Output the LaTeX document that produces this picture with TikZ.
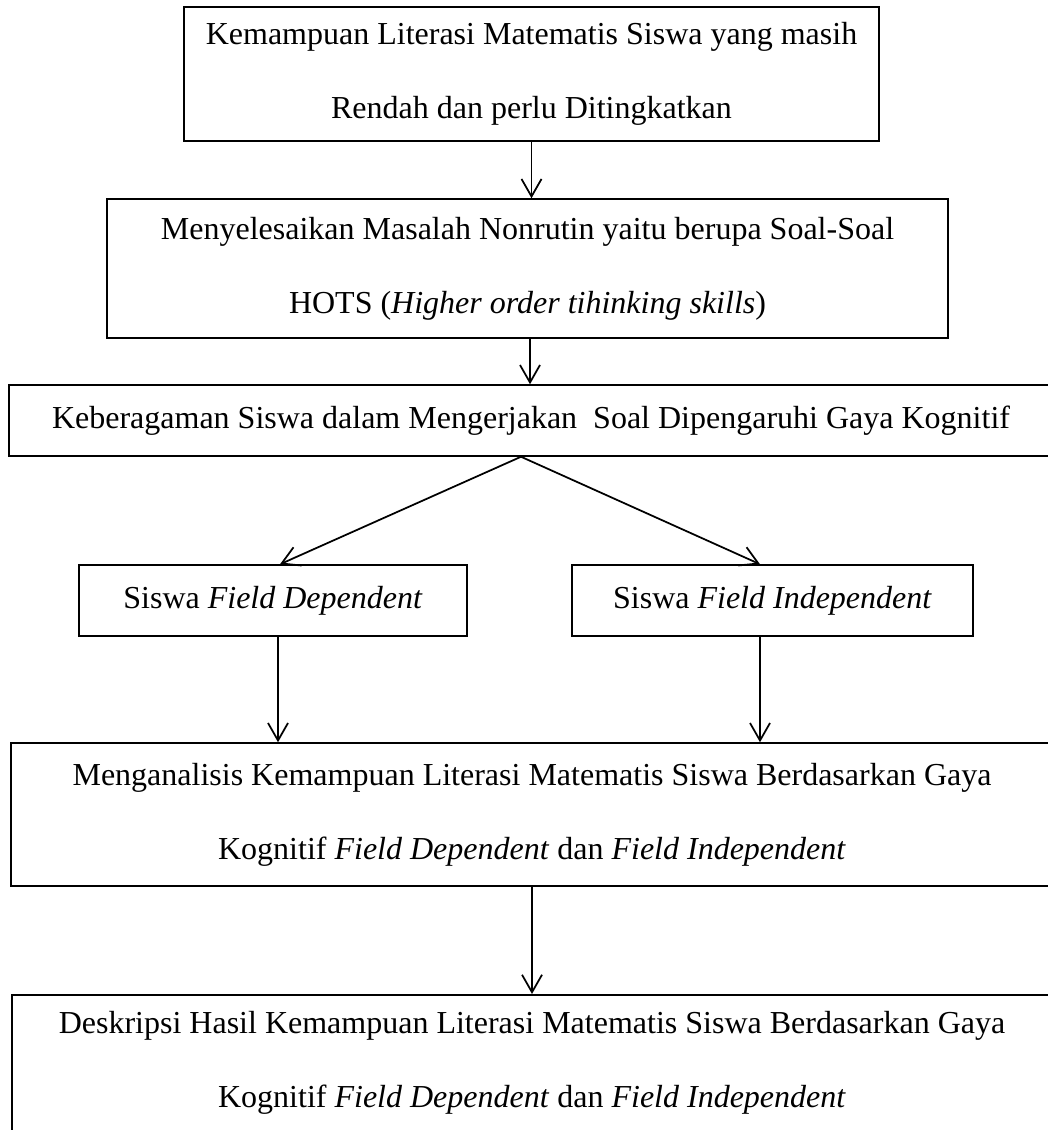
\documentclass[tikz,border=0pt]{standalone}
\usepackage{fontspec}
\setmainfont{Liberation Serif}
\usetikzlibrary{arrows.meta}
\begin{document}
\begin{tikzpicture}[x=0.4pt,y=-0.4pt,
    box/.style={draw,line width=0.6pt,inner sep=0pt,align=center,
      font=\fontsize{12.8}{29.6}\selectfont},
    flow/.style={line width=0.7pt,-{Straight Barb[length=7pt,width=8pt]}}]
  \useasboundingbox (0,0) rectangle (1047,1130);
  \node[box,minimum width=278pt,minimum height=53.6pt] (masalah) at (531.5,74)
    {Kemampuan Literasi Matematis Siswa yang masih\\Rendah dan perlu Ditingkatkan};
  \node[box,minimum width=336.4pt,minimum height=55.6pt] (hots) at (527.5,268.5)
    {Menyelesaikan Masalah Nonrutin yaitu berupa Soal-Soal\\HOTS (\textit{Higher order tihinking skills})};
  \node[box,minimum width=417.6pt,minimum height=28.4pt] (ragam) at (531,420.5)
    {Keberagaman Siswa dalam Mengerjakan\ \ Soal Dipengaruhi Gaya Kognitif};
  \node[box,minimum width=155.2pt,minimum height=28.4pt] (fd) at (273,600.5)
    {Siswa \textit{Field Dependent}};
  \node[box,minimum width=160.4pt,minimum height=28.4pt] (fi) at (772.5,600.5)
    {Siswa \textit{Field Independent}};
  \node[box,minimum width=416.8pt,minimum height=57.2pt] (analisis) at (532,814.5)
    {Menganalisis Kemampuan Literasi Matematis Siswa Berdasarkan Gaya\\Kognitif \textit{Field Dependent} dan \textit{Field Independent}};
  \node[box,anchor=north,minimum width=416pt,text height=45.2pt,text depth=40pt] (deskripsi) at (532,994)
    {Deskripsi Hasil Kemampuan Literasi Matematis Siswa Berdasarkan Gaya\\Kognitif \textit{Field Dependent} dan \textit{Field Independent}};
  \begin{scope}[flow]
    \draw (masalah.south) -- (masalah.south |- hots.north);
    \draw ([xshift=1pt]hots.south) -- ([xshift=1pt]hots.south |- ragam.north);
    \draw ([xshift=-4pt]ragam.south) -- ([xshift=2.8pt]fd.north);
    \draw ([xshift=-4pt]ragam.south) -- ([xshift=-5pt]fi.north);
    \draw ([xshift=2pt]fd.south) -- ([xshift=2pt]fd.south |- analisis.north);
    \draw ([xshift=-5pt]fi.south) -- ([xshift=-5pt]fi.south |- analisis.north);
    \draw (analisis.south) -- (analisis.south |- deskripsi.north);
  \end{scope}
\end{tikzpicture}
\end{document}
